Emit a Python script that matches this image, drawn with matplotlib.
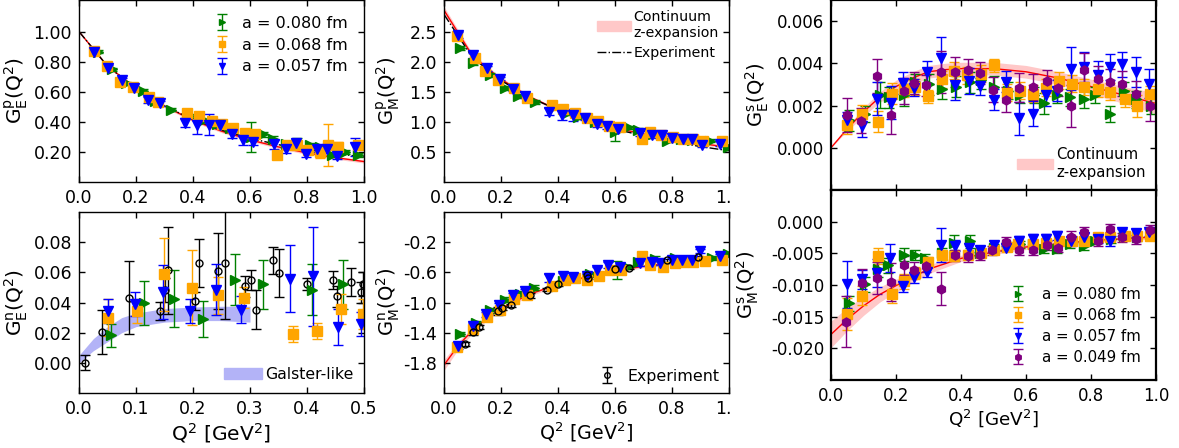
import matplotlib
matplotlib.use("Agg")
import matplotlib.pyplot as plt
from matplotlib.transforms import Bbox, TransformedBbox
from matplotlib.patches import Patch
from matplotlib.lines import Line2D

plt.rcParams['axes.unicode_minus'] = False
plt.rcParams['font.family'] = ['DejaVu Sans']
plt.rcParams['mathtext.fontset'] = 'dejavusans'

# ---------------- data ----------------
A_LABELS = ['a = 0.080 fm', 'a = 0.068 fm', 'a = 0.057 fm', 'a = 0.049 fm']
COLORS = ['green', 'orange', 'blue', 'purple']
MARKERS = ['>', 's', 'v', 'h']

# proton electric G_E^p
gep_q = {
    0: [0.065, 0.115, 0.165, 0.226, 0.267, 0.322, 0.385, 0.44, 0.483, 0.53, 0.602, 0.647, 0.682,
        0.725, 0.766, 0.81, 0.846, 0.887, 0.933, 0.98],
    1: [0.054, 0.099, 0.144, 0.19, 0.246, 0.278, 0.378, 0.421, 0.465, 0.5, 0.541, 0.582, 0.617,
        0.694, 0.729, 0.766, 0.805, 0.846, 0.875, 0.91, 0.98],
    2: [0.054, 0.103, 0.15, 0.194, 0.243, 0.284, 0.372, 0.415, 0.457, 0.495, 0.536, 0.577, 0.612,
        0.685, 0.726, 0.76, 0.797, 0.834, 0.869, 0.904, 0.968],
}
gep_val = {
    0: [0.867, 0.749, 0.656, 0.607, 0.54, 0.482, 0.44, 0.41, 0.384, 0.362, 0.30, 0.316, 0.289,
        0.25, 0.26, 0.244, 0.23, 0.178, 0.2, 0.178],
    1: [0.873, 0.773, 0.667, 0.629, 0.567, 0.533, 0.462, 0.438, 0.404, 0.384, 0.36, 0.327, 0.322,
        0.178, 0.249, 0.245, 0.211, 0.2, 0.246, 0.233, 0.244],
    2: [0.862, 0.76, 0.678, 0.622, 0.544, 0.522, 0.395, 0.38, 0.38, 0.382, 0.316, 0.278, 0.267,
        0.251, 0.218, 0.256, 0.189, 0.218, 0.222, 0.173, 0.233],
}
gep_err = {
    0: [0.012, 0.012, 0.012, 0.012, 0.012, 0.012, 0.012, 0.012, 0.012, 0.012, 0.1, 0.015, 0.015,
        0.015, 0.035, 0.015, 0.015, 0.015, 0.015, 0.015],
    1: [0.012, 0.012, 0.012, 0.012, 0.015, 0.012, 0.015, 0.015, 0.012, 0.012, 0.012, 0.015, 0.015,
        0.02, 0.015, 0.015, 0.02, 0.04, 0.14, 0.03, 0.02],
    2: [0.015, 0.015, 0.015, 0.015, 0.02, 0.015, 0.03, 0.06, 0.07, 0.02, 0.025, 0.03, 0.02,
        0.03, 0.025, 0.02, 0.02, 0.02, 0.03, 0.02, 0.06],
}
gep_curve_q = [0.0, 0.1, 0.2, 0.3, 0.4, 0.5, 0.6, 0.7, 0.8, 0.9, 1.0]
gep_fit = [1.0, 0.77, 0.625, 0.505, 0.41, 0.338, 0.28, 0.233, 0.193, 0.162, 0.136]
gep_fit_err = [0.002, 0.006, 0.008, 0.01, 0.01, 0.01, 0.01, 0.01, 0.01, 0.01, 0.01]
gep_exp = [1.0, 0.77, 0.622, 0.505, 0.415, 0.345, 0.29, 0.248, 0.215, 0.189, 0.166]

# proton magnetic G_M^p
gmp_q = {
    0: [0.056, 0.103, 0.161, 0.214, 0.261, 0.319, 0.385, 0.43, 0.47, 0.53, 0.6, 0.647, 0.682,
        0.735, 0.781, 0.83, 0.87, 0.933, 0.998],
    1: [0.044, 0.109, 0.144, 0.19, 0.246, 0.29, 0.378, 0.419, 0.46, 0.5, 0.541, 0.58, 0.617,
        0.694, 0.723, 0.76, 0.805, 0.84, 0.875, 0.91, 0.974],
    2: [0.05, 0.1, 0.15, 0.196, 0.243, 0.284, 0.37, 0.413, 0.454, 0.495, 0.536, 0.573, 0.612,
        0.688, 0.729, 0.764, 0.8, 0.84, 0.869, 0.904, 0.968],
}
gmp_val = {
    0: [2.23, 1.98, 1.78, 1.56, 1.43, 1.33, 1.25, 1.15, 1.08, 1.0, 0.83, 0.91, 0.87,
        0.8, 0.69, 0.72, 0.7, 0.69, 0.59],
    1: [2.43, 2.06, 1.85, 1.69, 1.56, 1.4, 1.28, 1.22, 1.15, 1.06, 1.01, 0.94, 0.92,
        0.71, 0.83, 0.79, 0.75, 0.71, 0.72, 0.69, 0.69],
    2: [2.44, 2.11, 1.89, 1.72, 1.54, 1.43, 1.17, 1.11, 1.11, 1.07, 0.96, 0.93, 0.89,
        0.81, 0.78, 0.78, 0.73, 0.71, 0.71, 0.61, 0.64],
}
gmp_err = {
    0: [0.03, 0.03, 0.03, 0.03, 0.03, 0.03, 0.03, 0.03, 0.03, 0.03, 0.15, 0.03, 0.03,
        0.03, 0.03, 0.03, 0.03, 0.03, 0.03],
    1: [0.04, 0.03, 0.03, 0.03, 0.03, 0.03, 0.03, 0.03, 0.03, 0.03, 0.03, 0.04, 0.04,
        0.05, 0.03, 0.03, 0.03, 0.03, 0.03, 0.03, 0.03],
    2: [0.05, 0.04, 0.04, 0.03, 0.03, 0.03, 0.06, 0.08, 0.1, 0.04, 0.04, 0.05, 0.04,
        0.04, 0.04, 0.04, 0.03, 0.03, 0.03, 0.03, 0.04],
}
gmp_fit = [2.86, 2.1, 1.71, 1.42, 1.2, 1.04, 0.9, 0.8, 0.71, 0.64, 0.58]
gmp_fit_err = [0.06, 0.04, 0.03, 0.025, 0.02, 0.02, 0.02, 0.02, 0.02, 0.02, 0.02]
gmp_exp = [2.79, 2.07, 1.69, 1.41, 1.2, 1.03, 0.88, 0.77, 0.67, 0.59, 0.52]

# strange electric G_E^s
ges_q = {
    0: [0.054, 0.106, 0.152, 0.177, 0.224, 0.259, 0.3, 0.341, 0.385, 0.429, 0.462, 0.5, 0.544,
        0.583, 0.625, 0.656, 0.695, 0.736, 0.777, 0.813, 0.857, 0.9, 0.939, 0.985],
    1: [0.049, 0.095, 0.144, 0.188, 0.226, 0.259, 0.298, 0.341, 0.377, 0.418, 0.46, 0.5, 0.541,
        0.58, 0.621, 0.66, 0.7, 0.741, 0.777, 0.823, 0.859, 0.906, 0.942, 0.981],
    2: [0.049, 0.095, 0.142, 0.185, 0.222, 0.254, 0.295, 0.338, 0.383, 0.424, 0.459, 0.5, 0.538,
        0.577, 0.622, 0.663, 0.695, 0.739, 0.777, 0.823, 0.859, 0.895, 0.939, 0.977],
    3: [0.049, 0.093, 0.142, 0.185, 0.224, 0.254, 0.293, 0.338, 0.383, 0.422, 0.457, 0.497, 0.538,
        0.577, 0.622, 0.665, 0.697, 0.739, 0.779, 0.823, 0.859, 0.895, 0.939, 0.981],
}
ges_val = {
    0: [0.0013, 0.0016, 0.0025, 0.0024, 0.0025, 0.0031, 0.0030, 0.0028, 0.0029, 0.0031, 0.0032,
        0.0029, 0.0027, 0.0025, 0.0025, 0.0021, 0.0025, 0.0024, 0.0023, 0.0025, 0.0016, 0.0027,
        0.0023, 0.0020],
    1: [0.00107, 0.00162, 0.00123, 0.00257, 0.0028, 0.00288, 0.00244, 0.00324, 0.00364, 0.00343,
        0.0035, 0.00391, 0.0026, 0.0027, 0.00257, 0.00285, 0.00317, 0.00304, 0.00288, 0.0028,
        0.00265, 0.00233, 0.00198, 0.00253],
    2: [0.0013, 0.00102, 0.00233, 0.00214, 0.00307, 0.00285, 0.00359, 0.00427, 0.00296, 0.00317,
        0.00291, 0.00228, 0.00312, 0.00139, 0.00162, 0.00249, 0.0027, 0.00375, 0.00383, 0.00343,
        0.00383, 0.00395, 0.00359, 0.00304],
    3: [0.00154, 0.00128, 0.00339, 0.00154, 0.00269, 0.00307, 0.00296, 0.00359, 0.00359, 0.0037,
        0.00354, 0.00276, 0.00228, 0.00285, 0.00288, 0.00317, 0.00285, 0.00197, 0.00367, 0.00328,
        0.00312, 0.00304, 0.00257, 0.00197],
}
ges_err = {
    0: [0.0005, 0.0004, 0.0006, 0.0005, 0.0005, 0.0004, 0.0005, 0.0005, 0.0005, 0.0005, 0.0004,
        0.0005, 0.0004, 0.0004, 0.0004, 0.0005, 0.0004, 0.0004, 0.0004, 0.0004, 0.0004, 0.0004,
        0.0004, 0.0004],
    1: [0.0004, 0.0004, 0.0005, 0.0005, 0.0004, 0.0004, 0.0003, 0.0004, 0.0004, 0.0004, 0.0004,
        0.0003, 0.0004, 0.0004, 0.0004, 0.0004, 0.0004, 0.0004, 0.0004, 0.0004, 0.0004, 0.0004,
        0.0005, 0.0004],
    2: [0.0004, 0.0005, 0.0008, 0.0008, 0.0005, 0.0004, 0.0005, 0.001, 0.0007, 0.0006, 0.0004,
        0.0005, 0.0005, 0.0008, 0.0006, 0.0005, 0.0005, 0.001, 0.0007, 0.0007, 0.0006, 0.0006,
        0.0007, 0.0007],
    3: [0.0008, 0.0006, 0.0008, 0.0009, 0.0006, 0.0005, 0.0005, 0.001, 0.0007, 0.0005, 0.0005,
        0.0006, 0.0006, 0.0007, 0.0006, 0.0005, 0.0004, 0.001, 0.0008, 0.0006, 0.0006, 0.0006,
        0.0006, 0.0007],
}
ges_curve_q = [0.0, 0.05, 0.1, 0.15, 0.2, 0.25, 0.3, 0.35, 0.4, 0.5, 0.6, 0.7, 0.8, 0.9, 1.0]
ges_fit = [0.0, 0.0009, 0.0017, 0.0024, 0.0029, 0.0033, 0.0036, 0.0037, 0.00375, 0.00375,
           0.0036, 0.0033, 0.0029, 0.0025, 0.0021]
ges_fit_err = [0.0, 0.0001, 0.0002, 0.00025, 0.0003, 0.0003, 0.0003, 0.0003, 0.0003, 0.0003,
               0.0003, 0.0003, 0.00035, 0.0004, 0.0005]

# neutron electric G_E^n
gen_q = {
    0: [0.057, 0.114, 0.166, 0.218, 0.274, 0.322, 0.408, 0.464],
    1: [0.051, 0.101, 0.149, 0.198, 0.243, 0.289, 0.375, 0.418, 0.459, 0.499],
    2: [0.05, 0.098, 0.148, 0.195, 0.24, 0.285, 0.371, 0.411, 0.455, 0.494],
}
gen_val = {
    0: [0.0183, 0.0397, 0.0425, 0.0293, 0.0551, 0.052, 0.0485, 0.052],
    1: [0.030, 0.0345, 0.0586, 0.0498, 0.0447, 0.0432, 0.019, 0.0212, 0.0359, 0.0322],
    2: [0.0344, 0.0388, 0.0469, 0.0344, 0.0485, 0.0353, 0.0558, 0.0573, 0.024, 0.0256],
}
gen_err = {
    0: [0.0075, 0.0143, 0.019, 0.012, 0.017, 0.016, 0.017, 0.016],
    1: [0.012, 0.008, 0.024, 0.025, 0.012, 0.007, 0.0055, 0.0055, 0.01, 0.01],
    2: [0.008, 0.008, 0.018, 0.008, 0.017, 0.009, 0.022, 0.033, 0.012, 0.008],
}
gen_exp_q = [0.0105, 0.04, 0.088, 0.142, 0.151, 0.157, 0.204, 0.211, 0.244, 0.256, 0.291, 0.301,
             0.31, 0.34, 0.35, 0.4, 0.445, 0.452, 0.477, 0.494, 0.499]
gen_exp = [0.0, 0.0205, 0.0432, 0.0344, 0.0485, 0.0613, 0.041, 0.0661, 0.0608, 0.0661, 0.0507,
           0.0551, 0.0353, 0.0679, 0.0595, 0.0525, 0.0551, 0.0441, 0.0536, 0.0469, 0.0525]
gen_exp_err = [0.005, 0.0145, 0.024, 0.006, 0.008, 0.029, 0.006, 0.016, 0.025, 0.037, 0.007,
               0.0066, 0.013, 0.009, 0.016, 0.004, 0.006, 0.007, 0.009, 0.007, 0.008]
galster_q = [0.0, 0.025, 0.05, 0.075, 0.1, 0.15, 0.2, 0.25, 0.3]
galster_lo = [0.0, 0.008, 0.014, 0.020, 0.024, 0.027, 0.028, 0.028, 0.027]
galster_hi = [0.005, 0.016, 0.024, 0.030, 0.033, 0.036, 0.037, 0.0375, 0.0375]

# neutron magnetic G_M^n
gmn_q = {
    0: [0.056, 0.112, 0.161, 0.214, 0.267, 0.316, 0.419, 0.512, 0.606, 0.643, 0.682, 0.74, 0.81,
        0.939, 0.998],
    1: [0.044, 0.103, 0.15, 0.196, 0.246, 0.29, 0.378, 0.425, 0.46, 0.5, 0.545, 0.582, 0.622,
        0.694, 0.723, 0.767, 0.81, 0.84, 0.875, 0.916, 0.974],
    2: [0.05, 0.103, 0.147, 0.194, 0.241, 0.284, 0.37, 0.416, 0.454, 0.5, 0.536, 0.577, 0.618,
        0.688, 0.729, 0.758, 0.799, 0.834, 0.869, 0.898, 0.968],
}
gmn_val = {
    0: [-1.42, -1.27, -1.104, -0.963, -0.883, -0.804, -0.716, -0.628, -0.566, -0.53, -0.464,
        -0.42, -0.407, -0.407, -0.354],
    1: [-1.59, -1.346, -1.192, -1.104, -0.949, -0.905, -0.786, -0.698, -0.672, -0.698, -0.654,
        -0.575, -0.566, -0.39, -0.509, -0.53, -0.478, -0.464, -0.464, -0.451, -0.442],
    2: [-1.58, -1.315, -1.156, -1.037, -0.905, -0.852, -0.672, -0.654, -0.663, -0.654, -0.566,
        -0.509, -0.53, -0.478, -0.464, -0.478, -0.442, -0.442, -0.434, -0.319, -0.39],
}
gmn_err = {
    0: [0.03, 0.03, 0.03, 0.03, 0.03, 0.03, 0.03, 0.03, 0.12, 0.03, 0.03, 0.03, 0.03, 0.03, 0.03],
    1: [0.04, 0.03, 0.03, 0.03, 0.03, 0.03, 0.03, 0.03, 0.03, 0.03, 0.03, 0.03, 0.03,
        0.05, 0.03, 0.03, 0.03, 0.03, 0.03, 0.03, 0.03],
    2: [0.04, 0.04, 0.03, 0.03, 0.03, 0.03, 0.05, 0.05, 0.06, 0.04, 0.04, 0.04, 0.04,
        0.04, 0.04, 0.03, 0.03, 0.03, 0.03, 0.03, 0.03],
}
gmn_exp_q = [0.074, 0.1, 0.124, 0.19, 0.202, 0.234, 0.3, 0.36, 0.401, 0.5, 0.506, 0.6, 0.65,
             0.781, 0.892]
gmn_exp = [-1.553, -1.39, -1.324, -1.112, -1.073, -1.037, -0.905, -0.83, -0.76, -0.64, -0.672,
           -0.553, -0.539, -0.442, -0.398]
gmn_exp_err = [0.03, 0.04, 0.03, 0.05, 0.03, 0.02, 0.03, 0.02, 0.02, 0.02, 0.02, 0.02, 0.02,
               0.02, 0.02]
gmn_curve_q = [0.0, 0.05, 0.1, 0.15, 0.2, 0.3, 0.4, 0.5, 0.6, 0.7, 0.8, 0.9, 1.0]
gmn_fit = [-1.83, -1.57, -1.37, -1.21, -1.08, -0.89, -0.76, -0.66, -0.58, -0.52, -0.47, -0.43,
           -0.39]
gmn_fit_err = [0.07, 0.05, 0.04, 0.03, 0.03, 0.025, 0.02, 0.02, 0.02, 0.02, 0.02, 0.02, 0.02]

# strange magnetic G_M^s
gms_q = {
    0: [0.054, 0.106, 0.145, 0.174, 0.226, 0.259, 0.29, 0.34, 0.377, 0.427, 0.459, 0.5, 0.54,
        0.58, 0.62, 0.656, 0.695, 0.736, 0.779, 0.813, 0.86, 0.9, 0.94, 0.985],
    1: [0.049, 0.095, 0.144, 0.188, 0.226, 0.259, 0.298, 0.341, 0.379, 0.42, 0.46, 0.5, 0.541,
        0.574, 0.622, 0.66, 0.7, 0.741, 0.777, 0.823, 0.859, 0.906, 0.942, 0.981],
    2: [0.049, 0.095, 0.142, 0.183, 0.222, 0.256, 0.295, 0.338, 0.383, 0.424, 0.459, 0.5, 0.538,
        0.577, 0.622, 0.663, 0.695, 0.739, 0.777, 0.82, 0.857, 0.895, 0.939, 0.977],
    3: [0.047, 0.095, 0.142, 0.185, 0.224, 0.254, 0.293, 0.339, 0.383, 0.422, 0.457, 0.495, 0.538,
        0.577, 0.622, 0.665, 0.697, 0.739, 0.779, 0.823, 0.859, 0.895, 0.939, 0.981],
}
gms_val = {
    0: [-0.0129, -0.0099, -0.0075, -0.0069, -0.0052, -0.0052, -0.0057, -0.0050, -0.0033, -0.0031,
        -0.0049, -0.0042, -0.0038, -0.0036, -0.0036, -0.0043, -0.0043, -0.0036, -0.0039, -0.0031,
        -0.0028, -0.0022, -0.0025, -0.0020],
    1: [-0.0146, -0.0117, -0.0054, -0.0114, -0.0094, -0.0081, -0.0064, -0.0052, -0.0055, -0.0052,
        -0.0050, -0.0045, -0.0040, -0.0036, -0.0036, -0.0034, -0.0031, -0.0031, -0.0031, -0.0025,
        -0.0025, -0.0022, -0.0022, -0.0022],
    2: [-0.0099, -0.0091, -0.0081, -0.0058, -0.0102, -0.0088, -0.0079, -0.0037, -0.0038, -0.0041,
        -0.0044, -0.0037, -0.0041, -0.0031, -0.0027, -0.0027, -0.0022, -0.0031, -0.0025, -0.0028,
        -0.0031, -0.0017, -0.0018, -0.0017],
    3: [-0.0158, -0.0097, -0.0089, -0.0096, -0.0069, -0.0076, -0.007, -0.0106, -0.0053, -0.0055,
        -0.0052, -0.0045, -0.0032, -0.0044, -0.0044, -0.0037, -0.0041, -0.0024, -0.0017, -0.0031,
        -0.0011, -0.0025, -0.0028, -0.0013],
}
gms_err = {
    0: [0.0012, 0.0012, 0.0012, 0.0012, 0.0010, 0.0008, 0.0006, 0.0008, 0.0012, 0.0010, 0.0006,
        0.0006, 0.0006, 0.0006, 0.0006, 0.0006, 0.0006, 0.0006, 0.0005, 0.0005, 0.0005, 0.0005,
        0.0005, 0.0005],
    1: [0.0025, 0.0015, 0.0013, 0.0015, 0.0012, 0.0010, 0.0008, 0.0008, 0.0007, 0.0007, 0.0006,
        0.0006, 0.0006, 0.0006, 0.0006, 0.0006, 0.0006, 0.0006, 0.0006, 0.0006, 0.0006, 0.0006,
        0.0006, 0.0006],
    2: [0.0037, 0.0015, 0.0022, 0.0022, 0.0009, 0.0009, 0.0008, 0.0027, 0.0009, 0.0007, 0.0006,
        0.0006, 0.0006, 0.0008, 0.0008, 0.0007, 0.0007, 0.0007, 0.0007, 0.0006, 0.0007, 0.0006,
        0.0006, 0.0006],
    3: [0.0040, 0.0022, 0.0025, 0.0030, 0.0015, 0.0012, 0.0010, 0.0026, 0.0009, 0.0008, 0.0008,
        0.0007, 0.0007, 0.0009, 0.0008, 0.0007, 0.0007, 0.0009, 0.0008, 0.0007, 0.0008, 0.0007,
        0.0007, 0.0007],
}
gms_curve_q = [0.0, 0.05, 0.1, 0.15, 0.2, 0.3, 0.4, 0.5, 0.6, 0.7, 0.8, 0.9, 1.0]
gms_fit = [-0.0178, -0.0154, -0.0133, -0.0115, -0.0101, -0.0075, -0.0058, -0.0048, -0.0040,
           -0.0035, -0.0030, -0.0027, -0.0024]
gms_fit_err = [0.0021, 0.0018, 0.0015, 0.0012, 0.0010, 0.0007, 0.0005, 0.0004, 0.0004, 0.0003,
               0.0003, 0.0003, 0.0003]

# ---------------- figure ----------------
W, H = 1179, 448
fig = plt.figure(figsize=(W / 100, H / 100), dpi=100)


def box(l, t, r, b):
    return [l / W, 1 - b / H, (r - l) / W, (b - t) / H]


ax_gep = fig.add_axes(box(79, 0, 364, 182))
ax_gmp = fig.add_axes(box(444, 0, 729, 182))
ax_ges = fig.add_axes(box(831, 0, 1156, 190))
ax_gen = fig.add_axes(box(79, 212, 364, 393))
ax_gmn = fig.add_axes(box(444, 212, 729, 393))
ax_gms = fig.add_axes(box(831, 190, 1156, 380))

PINK = '#ffc8c8'
LAVENDER = '#b3b3f7'


def lattice(ax, qd, vd, ed, series):
    for i in series:
        ax.errorbar(qd[i], vd[i], yerr=ed[i], fmt=MARKERS[i], color=COLORS[i], ms=6.5,
                    elinewidth=1, capsize=3.5, capthick=1, label=A_LABELS[i])


def band(ax, q, fit, err, color):
    ax.fill_between(q, [f - e for f, e in zip(fit, err)], [f + e for f, e in zip(fit, err)],
                    color=color, lw=0)


def style(ax, xlim, ylim, yticks, yfmt, xticks, xfmt, ylabel, xlabel_fs=None,
          xlabels=True, tick_fs=12, label_fs=14, spine_lw=1.0):
    ax.set_xlim(*xlim)
    ax.set_ylim(*ylim)
    ax.set_yticks(yticks)
    ax.set_yticklabels([yfmt.format(v) for v in yticks])
    ax.set_xticks(xticks)
    if xlabels:
        ax.set_xticklabels([xfmt.format(v) for v in xticks])
    else:
        ax.set_xticklabels([])
    ax.tick_params(direction='in', top=True, right=True, length=4, width=1,
                   labelsize=tick_fs, pad=5)
    for s in ax.spines.values():
        s.set_linewidth(spine_lw)
    if xlabel_fs:
        ax.set_xlabel('Q$^2$ [GeV$^2$]', fontsize=xlabel_fs, labelpad=2)
    ax.set_ylabel(ylabel, fontsize=label_fs)


# G_E^p
band(ax_gep, gep_curve_q, gep_fit, gep_fit_err, PINK)
ax_gep.plot(gep_curve_q, gep_fit, color='red', lw=1)
ax_gep.plot(gep_curve_q, gep_exp, color='black', lw=1, ls='-.')
lattice(ax_gep, gep_q, gep_val, gep_err, [0, 1, 2])
style(ax_gep, (0, 1), (0.0, 1.21), [0.2, 0.4, 0.6, 0.8, 1.0], '{:.2f}',
      [0, 0.2, 0.4, 0.6, 0.8, 1.0], '{:.1f}', 'G$_{\\rm E}^{\\rm p}$(Q$^2$)',
      tick_fs=12.5, label_fs=14.5)
ax_gep.legend(loc='upper right', fontsize=11.5, frameon=False, markerscale=0.7,
              handlelength=0.8, handletextpad=0.9, labelspacing=0.42, borderaxespad=0.6)

# G_M^p
band(ax_gmp, gep_curve_q, gmp_fit, gmp_fit_err, PINK)
ax_gmp.plot(gep_curve_q, gmp_fit, color='red', lw=1)
ax_gmp.plot(gep_curve_q, gmp_exp, color='black', lw=1, ls='-.')
lattice(ax_gmp, gmp_q, gmp_val, gmp_err, [0, 1, 2])
style(ax_gmp, (0, 1), (0.0, 3.03), [0.5, 1.0, 1.5, 2.0, 2.5], '{:.1f}',
      [0, 0.2, 0.4, 0.6, 0.8, 1.0], '{:.1f}', 'G$_{\\rm M}^{\\rm p}$(Q$^2$)',
      tick_fs=12.5, label_fs=14)
ax_gmp.legend([Patch(color=PINK), Line2D([], [], color='black', lw=1, ls='-.')],
              ['Continuum\nz-expansion', 'Experiment'], loc='upper right', fontsize=10.2,
              frameon=False, handlelength=2.4, handletextpad=0.2, labelspacing=0.4,
              borderaxespad=0.3)

# G_E^s
band(ax_ges, ges_curve_q, ges_fit, ges_fit_err, PINK)
ax_ges.plot(ges_curve_q, ges_fit, color='red', lw=1)
lattice(ax_ges, ges_q, ges_val, ges_err, [0, 1, 2, 3])
style(ax_ges, (0, 1), (-0.002, 0.007), [0.0, 0.002, 0.004, 0.006], '{:.3f}',
      [0, 0.2, 0.4, 0.6, 0.8, 1.0], '{:.1f}', 'G$_{\\rm E}^{\\rm s}$(Q$^2$)',
      xlabels=False, spine_lw=1.6)
ax_ges.legend([Patch(color=PINK)], ['Continuum\nz-expansion'], loc='lower right',
              fontsize=10.7, frameon=False, handlelength=2.4, handletextpad=0.2,
              borderaxespad=0.3)

# G_E^n
ax_gen.fill_between(galster_q, galster_lo, galster_hi, color=LAVENDER, lw=0)
ax_gen.errorbar(gen_exp_q, gen_exp, yerr=gen_exp_err, fmt='o', mfc='none', mec='black',
                color='black', ms=5, elinewidth=1, capsize=3.5, capthick=1)
lattice(ax_gen, gen_q, gen_val, gen_err, [0, 1, 2])
style(ax_gen, (0, 0.5), (-0.02, 0.10), [0.0, 0.02, 0.04, 0.06, 0.08], '{:.2f}',
      [0, 0.1, 0.2, 0.3, 0.4, 0.5], '{:.1f}', 'G$_{\\rm E}^{\\rm n}$(Q$^2$)',
      xlabel_fs=14.6, tick_fs=12.5, label_fs=14.5)
ax_gen.legend([Patch(color=LAVENDER)], ['Galster-like'], loc='lower right',
              fontsize=11.3, frameon=False, handlelength=2.4, handletextpad=0.2,
              borderaxespad=0.3)

# G_M^n
band(ax_gmn, gmn_curve_q, gmn_fit, gmn_fit_err, PINK)
ax_gmn.plot(gmn_curve_q, gmn_fit, color='red', lw=1)
lattice(ax_gmn, gmn_q, gmn_val, gmn_err, [0, 1, 2])
exp_h = ax_gmn.errorbar(gmn_exp_q, gmn_exp, yerr=gmn_exp_err, fmt='o', mfc='none', mec='black',
                        color='black', ms=5, elinewidth=1, capsize=3.5, capthick=1)
style(ax_gmn, (0, 1), (-2.2, 0.2), [-1.8, -1.4, -1.0, -0.6, -0.2], '{:.1f}',
      [0, 0.2, 0.4, 0.6, 0.8, 1.0], '{:.1f}', 'G$_{\\rm M}^{\\rm n}$(Q$^2$)',
      xlabel_fs=13.7, tick_fs=12.5, label_fs=14)
ax_gmn.legend([exp_h], ['Experiment'], loc='lower right', fontsize=11.4, frameon=False,
              markerscale=0.8, handlelength=1.0, handletextpad=0.8, borderaxespad=0.2)

# G_M^s
band(ax_gms, gms_curve_q, gms_fit, gms_fit_err, PINK)
ax_gms.plot(gms_curve_q, gms_fit, color='red', lw=1)
lattice(ax_gms, gms_q, gms_val, gms_err, [0, 1, 2, 3])
style(ax_gms, (0, 1), (-0.025, 0.005), [-0.02, -0.015, -0.01, -0.005, 0.0], '{:.3f}',
      [0, 0.2, 0.4, 0.6, 0.8, 1.0], '{:.1f}', 'G$_{\\rm M}^{\\rm s}$(Q$^2$)',
      xlabel_fs=13.2, spine_lw=1.6)
ax_gms.legend(loc='lower right', fontsize=10.8, frameon=False, markerscale=0.7,
              handlelength=0.8, handletextpad=1.2, labelspacing=0.4, borderaxespad=0.6)

# y label positions (right edge of the rotated label, in pixels)
for ax, xp in [(ax_gep, 30), (ax_gen, 30), (ax_gmp, 402), (ax_gmn, 402),
               (ax_ges, 771), (ax_gms, 761)]:
    l = ax.get_position().x0 * W
    wd = ax.get_position().width * W
    ax.yaxis.set_label_coords((xp - l) / wd, 0.5)

# the middle column is cut off on its right side in the original
clip = TransformedBbox(Bbox([[0, 0], [732 / W, 1]]), fig.transFigure)
for ax in (ax_gmp, ax_gmn):
    for lab in ax.get_xticklabels():
        lab.set_clip_box(clip)
        lab.set_clip_on(True)

fig.savefig('out.png', dpi=100)
